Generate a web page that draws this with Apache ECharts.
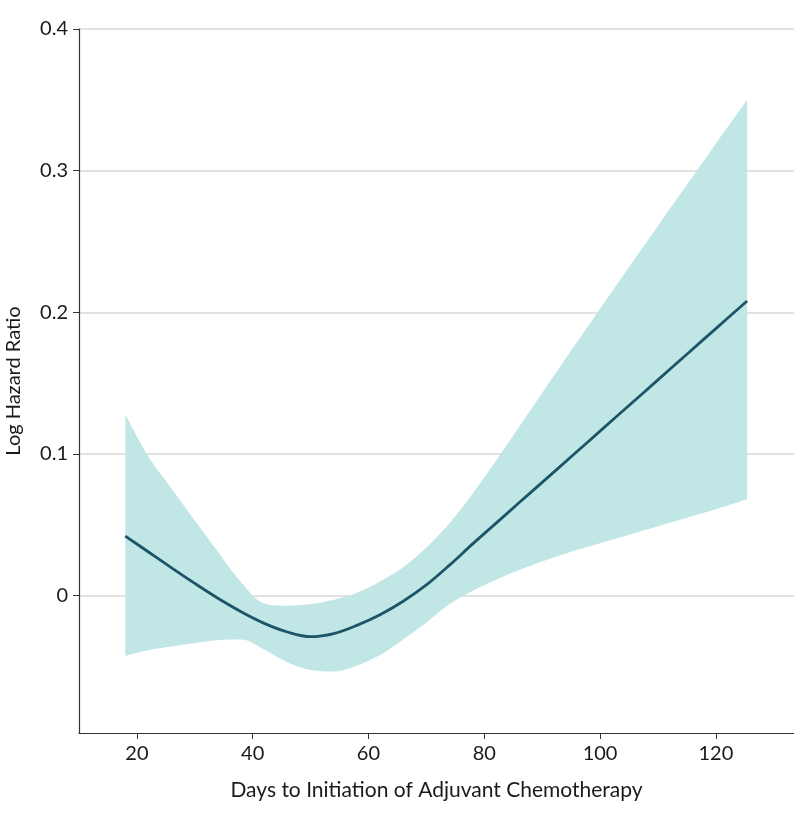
<!DOCTYPE html>
<html>
<head>
<meta charset="utf-8">
<script src="https://cdn.jsdelivr.net/npm/echarts@6/dist/echarts.min.js"></script>
<style>
html,body{margin:0;padding:0;background:#fff;}
#chart{width:794px;height:818px;}
</style>
</head>
<body>
<div id="chart"></div>
<script>
// Days to initiation (x) common grid
const days = [18, 22, 26, 30, 34, 38, 42, 46, 50, 54, 58, 62, 66, 70, 74, 78, 82, 86, 90, 95, 100, 105, 110, 115, 120, 125.4];
// Estimated log hazard ratio
const logHR = [0.042, 0.0308, 0.0196, 0.0086, -0.0019, -0.0114, -0.0196, -0.0257, -0.029, -0.0268, -0.021, -0.0135, -0.004, 0.0075, 0.0215, 0.0365, 0.051, 0.0655, 0.0799, 0.098, 0.1161, 0.1342, 0.1523, 0.1704, 0.1885, 0.208];
// 95% CI upper bound
const ciUpper = [0.128, 0.098, 0.0755, 0.053, 0.031, 0.0095, -0.0055, -0.0072, -0.006, -0.003, 0.002, 0.01, 0.02, 0.034, 0.051, 0.072, 0.095, 0.119, 0.143, 0.173, 0.2025, 0.232, 0.261, 0.290, 0.319, 0.35];
// 95% CI lower bound
const ciLower = [-0.0425, -0.0385, -0.036, -0.0335, -0.0315, -0.031, -0.038, -0.047, -0.0525, -0.0535, -0.0495, -0.042, -0.031, -0.019, -0.006, 0.0035, 0.011, 0.018, 0.024, 0.031, 0.037, 0.043, 0.049, 0.055, 0.061, 0.068];
// Axis ticks
const xTicks = [20, 40, 60, 80, 100, 120];
const yTicks = [0, 0.1, 0.2, 0.3, 0.4];
const xTitle = 'Days to Initiation of Adjuvant Chemotherapy';
const yTitle = 'Log Hazard Ratio';

const FONT = 'Lato';
const chart = echarts.init(document.getElementById('chart'), null, {renderer: 'canvas'});
// band rows are [y, x] so that the stacked dimension is y
const lowerData = days.map((d, i) => [ciLower[i], d]);
const bandData = days.map((d, i) => [ciUpper[i] - ciLower[i], d]);
const lineData = days.map((d, i) => [d, logHR[i]]);
const SMOOTH = 0.35;

chart.setOption({
  animation: false,
  backgroundColor: '#ffffff',
  grid: {left: 79, right: 0, top: 29, bottom: 85, containLabel: false, outerBoundsMode: 'none'},
  xAxis: {
    type: 'value', min: 10, max: 133.5,
    name: xTitle, nameLocation: 'middle', nameGap: 47,
    nameTextStyle: {fontFamily: FONT, fontSize: 21, color: '#1a1a1a'},
    axisLine: {show: true, onZero: false, lineStyle: {color: '#333', width: 1.2}},
    axisTick: {show: true, length: 6, customValues: xTicks, lineStyle: {color: '#333'}},
    axisLabel: {customValues: xTicks, margin: 11, fontFamily: FONT, fontSize: 20, color: '#1a1a1a'},
    splitLine: {show: false}
  },
  yAxis: {
    type: 'value', min: -0.097, max: 0.4,
    name: yTitle, nameLocation: 'middle', nameGap: 55, nameRotate: 90,
    nameTextStyle: {fontFamily: FONT, fontSize: 20, color: '#1a1a1a'},
    axisLine: {show: true, onZero: false, lineStyle: {color: '#333', width: 1.2}},
    axisTick: {show: true, length: 6, customValues: yTicks, lineStyle: {color: '#333'}},
    axisLabel: {customValues: yTicks, margin: 11, fontFamily: FONT, fontSize: 20, color: '#1a1a1a',
      formatter: v => (v === 0 ? '0' : v.toFixed(1))},
    splitLine: {show: true, lineStyle: {color: '#d9d9d9', width: 1.5}}
  },
  series: [
    {type: 'line', data: lowerData, encode: {x: 1, y: 0}, stack: 'ci', stackStrategy: 'all',
      smooth: SMOOTH, symbol: 'none', lineStyle: {opacity: 0}, silent: true, z: 2},
    {type: 'line', data: bandData, encode: {x: 1, y: 0}, stack: 'ci', stackStrategy: 'all',
      smooth: SMOOTH, symbol: 'none', lineStyle: {opacity: 0},
      areaStyle: {color: '#c1e6e6', opacity: 1}, silent: true, z: 2},
    {type: 'line', data: lineData, smooth: SMOOTH, symbol: 'none',
      lineStyle: {color: '#1d5466', width: 2.8}, z: 3}
  ]
});
</script>
</body>
</html>
